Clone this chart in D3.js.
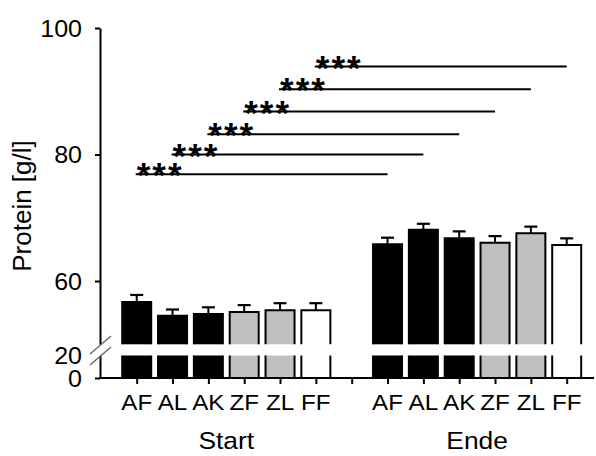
<!DOCTYPE html>
<html>
<head>
<meta charset="utf-8">
<script src="https://cdn.jsdelivr.net/npm/d3@7"></script>
<style>
  body { margin: 0; background: #fff; }
  svg text { font-family: "Liberation Sans", Arial, sans-serif; fill: #000; }
</style>
</head>
<body>
<div id="chart"></div>
<script>
// data
var groups = ["Start", "Ende"];
var categories = ["AF", "AL", "AK", "ZF", "ZL", "FF"];
var startValues = [56.7, 54.5, 54.8, 55.1, 55.4, 55.4];
var startErrors = [1.1, 1.0, 1.05, 1.1, 1.1, 1.1];
var endeValues = [65.8, 68.1, 66.75, 66.05, 67.55, 65.7];
var endeErrors = [1.05, 0.95, 1.1, 1.05, 1.05, 1.05];
var sigLevels = [76.9, 80.0, 83.2, 86.8, 90.3, 93.9];
var sigLabels = ["***", "***", "***", "***", "***", "***"];
var upperTicks = [60, 80, 100];
var lowerTicks = [0, 20];

var width = 596, height = 456;
var fillOf = { AF: "#000", AL: "#000", AK: "#000", ZF: "#c0c0c0", ZL: "#c0c0c0", FF: "#fff" };

var svg = d3.select("#chart")
    .append("svg")
    .attr("width", width)
    .attr("height", height);

var axisX = 100, axisY = 378;

// broken y axis: two scales
var yUpper = d3.scaleLinear().domain([50, 100]).range([344.3, 28]);
var yLower = d3.scaleLinear().domain([0, 20]).range([axisY, 355.5]);

// 13 slots: 6 Start, 1 gap, 6 Ende
var x = d3.scalePoint()
    .domain(d3.range(13))
    .range([136.7, 566.7]);

var barW = 29;

var bars = [];
groups.forEach(function (g, gi) {
    var vals = gi == 0 ? startValues : endeValues;
    var errs = gi == 0 ? startErrors : endeErrors;
    categories.forEach(function (c, i) {
        bars.push({ group: g, cat: c, slot: gi * 7 + i, value: vals[i], err: errs[i] });
    });
});

var barG = svg.append("g");
bars.forEach(function (d) {
    var cx = x(d.slot), x0 = cx - barW / 2, x1 = cx + barW / 2;
    var top = yUpper(d.value), brk = yUpper(50);
    var lowTop = yLower(20), lowBot = yLower(0);
    // error bar
    var cap = yUpper(d.value + d.err);
    barG.append("line")
        .attr("x1", cx).attr("x2", cx)
        .attr("y1", top).attr("y2", cap)
        .attr("stroke", "#000").attr("stroke-width", 2);
    barG.append("line")
        .attr("x1", cx - 6.5).attr("x2", cx + 6.5)
        .attr("y1", cap).attr("y2", cap)
        .attr("stroke", "#000").attr("stroke-width", 2.2);
    // upper segment
    barG.append("rect")
        .attr("x", x0).attr("y", top)
        .attr("width", barW).attr("height", brk - top)
        .attr("fill", fillOf[d.cat]);
    barG.append("path")
        .attr("d", "M" + x0 + "," + brk + "V" + top + "H" + x1 + "V" + brk)
        .attr("fill", "none").attr("stroke", "#000").attr("stroke-width", 2);
    // lower segment
    barG.append("rect")
        .attr("x", x0).attr("y", lowTop)
        .attr("width", barW).attr("height", lowBot - lowTop)
        .attr("fill", fillOf[d.cat]);
    barG.append("path")
        .attr("d", "M" + x0 + "," + lowTop + "V" + lowBot + "M" + x1 + "," + lowTop + "V" + lowBot)
        .attr("fill", "none").attr("stroke", "#000").attr("stroke-width", 2);
});

// y axis upper
var yAxU = svg.append("g")
    .attr("transform", "translate(" + axisX + ",0)")
    .call(d3.axisLeft(yUpper).tickValues(upperTicks).tickSize(5).tickSizeOuter(0));
var yAxL = svg.append("g")
    .attr("transform", "translate(" + axisX + ",0)")
    .call(d3.axisLeft(yLower).tickValues(lowerTicks).tickSize(5).tickSizeOuter(0));
yAxL.selectAll(".tick").filter(function (d) { return d == 20; }).select("line").remove();

[yAxU, yAxL].forEach(function (ax) {
    ax.select(".domain").attr("stroke-width", 2);
    ax.selectAll(".tick line").attr("stroke-width", 2);
    ax.selectAll(".tick text")
        .attr("x", -16.5)
        .attr("dy", "0.36em")
        .attr("transform", "scale(1.09,1)")
        .style("font-size", "23px");
});

// axis break slashes
svg.append("g").selectAll("line")
    .data([0, 11])
    .enter().append("line")
    .attr("x1", 90).attr("y1", function (d) { return 354 + d; })
    .attr("x2", 111).attr("y2", function (d) { return 336 + d; })
    .attr("stroke", "#666").attr("stroke-width", 1.4);

// x axis
svg.append("line")
    .attr("x1", axisX - 1).attr("x2", 594)
    .attr("y1", axisY).attr("y2", axisY)
    .attr("stroke", "#000").attr("stroke-width", 2);
var xAx = svg.append("g")
    .attr("transform", "translate(0," + axisY + ")")
    .call(d3.axisBottom(x).tickValues(d3.range(13)).tickFormat("").tickSize(6).tickSizeOuter(0));
xAx.select(".domain").remove();
xAx.selectAll(".tick line").attr("stroke-width", 2);

// category labels
svg.append("g").selectAll("text")
    .data(bars)
    .enter().append("text")
    .attr("transform", function (d) { return "translate(" + x(d.slot) + ",410) scale(1.1,1)"; })
    .attr("text-anchor", "middle")
    .style("font-size", "22px")
    .text(function (d) { return d.cat; });

// group labels
svg.append("g").selectAll("text")
    .data(groups)
    .enter().append("text")
    .attr("transform", function (d, gi) {
        var cx = (x(gi * 7) + x(gi * 7 + 5)) / 2;
        return "translate(" + cx + ",449) scale(1.1,1)";
    })
    .attr("text-anchor", "middle")
    .style("font-size", "24px")
    .text(function (d) { return d; });

// y label
svg.append("text")
    .attr("transform", "translate(31,206) rotate(-90)")
    .attr("text-anchor", "middle")
    .style("font-size", "26px")
    .text("Protein [g/l]");

// significance brackets: Start i vs Ende i
var sig = svg.append("g");
sigLevels.forEach(function (v, i) {
    var xa = x(i), xb = x(7 + i), yy = yUpper(v);
    sig.append("line")
        .attr("x1", xa - 1).attr("x2", xb)
        .attr("y1", yy).attr("y2", yy)
        .attr("stroke", "#000").attr("stroke-width", 2);
    sig.append("text")
        .attr("x", xa)
        .attr("y", yy + 13)
        .style("font-size", "35px")
        .style("font-weight", "bold")
        .style("letter-spacing", "2px")
        .text(sigLabels[i]);
});
</script>
</body>
</html>
